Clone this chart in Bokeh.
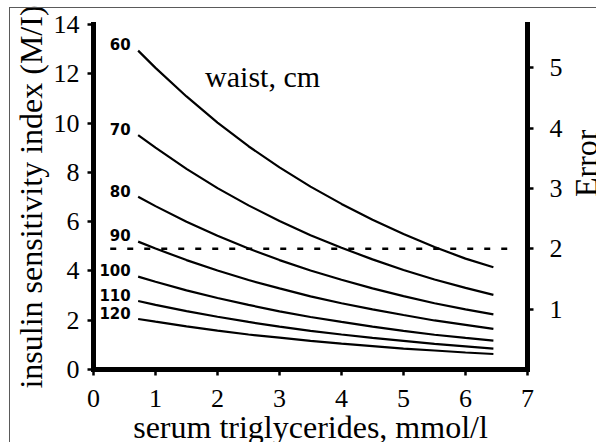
import math
from bokeh.plotting import figure
from bokeh.models import Range1d, LinearAxis, Label, FixedTicker, ColumnDataSource, InlineStyleSheet
from bokeh.core.properties import value
from bokeh.embed import file_html
from bokeh.resources import INLINE

# ---- data ----
triglycerides = [0.72, 1.0, 1.5, 2.0, 2.5, 3.0, 3.5, 4.0, 4.5, 5.0, 5.5, 6.0, 6.45]
waist_cm = ["60", "70", "80", "90", "100", "110", "120"]
isi_60 = [12.94, 12.24, 11.08, 10.02, 9.06, 8.20, 7.42, 6.72, 6.08, 5.50, 4.97, 4.50, 4.15]
isi_70 = [9.51, 9.00, 8.14, 7.36, 6.66, 6.03, 5.45, 4.94, 4.47, 4.04, 3.65, 3.31, 3.03]
isi_80 = [7.01, 6.63, 6.00, 5.43, 4.91, 4.44, 4.02, 3.64, 3.29, 2.98, 2.69, 2.44, 2.24]
isi_90 = [5.19, 4.91, 4.44, 4.02, 3.63, 3.29, 2.97, 2.69, 2.44, 2.21, 1.99, 1.81, 1.65]
isi_100 = [3.77, 3.56, 3.21, 2.90, 2.62, 2.36, 2.13, 1.93, 1.74, 1.57, 1.41, 1.28, 1.17]
isi_110 = [2.78, 2.62, 2.37, 2.14, 1.93, 1.74, 1.57, 1.42, 1.28, 1.16, 1.04, 0.94, 0.85]
isi_120 = [2.05, 1.94, 1.75, 1.58, 1.42, 1.29, 1.16, 1.05, 0.95, 0.85, 0.77, 0.69, 0.63]
series = [isi_60, isi_70, isi_80, isi_90, isi_100, isi_110, isi_120]

error_threshold = 2
threshold_x = [0.27, 6.85]
x_ticks = [0, 1, 2, 3, 4, 5, 6, 7]
y_ticks = [0, 2, 4, 6, 8, 10, 12, 14]
error_ticks = [1, 2, 3, 4, 5]
error_max = 14 / 2.45

SERIF = "Liberation Serif"

page_css = InlineStyleSheet(css="""
:host {
  width: 596px !important;
  height: 442px !important;
  max-width: 596px !important;
  max-height: 442px !important;
  overflow: hidden !important;
}
:host::after {
  content: "";
  position: absolute;
  left: 9px; top: 7px; width: 700px; height: 600px;
  border-top: 1.5px solid #5a5a5a;
  border-left: 1.5px solid #5a5a5a;
  pointer-events: none;
}
""")

p = figure(frame_width=434, frame_height=345, x_range=Range1d(0, 7), y_range=Range1d(0, 14),
           output_backend="svg", toolbar_location=None,
           min_border_left=93, min_border_right=69, min_border_top=24, min_border_bottom=72,
           stylesheets=[page_css])
p.extra_y_ranges = {"err": Range1d(0, error_max)}
p.xgrid.visible = False
p.ygrid.visible = False
p.outline_line_color = None
p.background_fill_color = "white"
p.border_fill_color = "white"

right = LinearAxis(y_range_name="err", ticker=FixedTicker(ticks=error_ticks))
p.add_layout(right, "right")
p.xaxis.ticker = FixedTicker(ticks=x_ticks)
p.yaxis[0].ticker = FixedTicker(ticks=y_ticks)

for ax in [p.xaxis[0], p.yaxis[0], right]:
    ax.axis_line_width = 5
    ax.axis_line_color = "black"
    ax.axis_line_cap = "square"
    ax.major_tick_line_width = 2.5
    ax.major_tick_line_color = "black"
    ax.major_tick_out = 6
    ax.major_tick_in = 0
    ax.minor_tick_out = 0
    ax.minor_tick_in = 0
    ax.major_label_text_font = SERIF
    ax.major_label_text_font_size = "26px"
    ax.major_label_text_color = "black"
    ax.axis_label_text_font = SERIF
    ax.axis_label_text_font_style = "normal"
    ax.axis_label_text_color = "black"

xa = p.xaxis[0]
xa.major_label_standoff = 14
xa.axis_label = "serum triglycerides, mmol/l"
xa.axis_label_text_font_size = "32px"
xa.axis_label_standoff = -1

ya = p.yaxis[0]
ya.major_label_standoff = 8
ya.axis_label = "insulin sensitivity index (M/I)"
ya.axis_label_text_font_size = "32px"
ya.axis_label_standoff = 2

right.major_label_standoff = 16
right.axis_label = "Error"
right.axis_label_text_font_size = "32px"
right.axis_label_standoff = 20
right.axis_label_orientation = math.pi / 2

# curves
for ys in series:
    p.line(triglycerides, ys, line_width=2.2, line_color="black")

# curve labels
src = ColumnDataSource(dict(x=[triglycerides[0] - 0.12] * len(series),
                            y=[s[0] + 0.25 for s in series], t=waist_cm))
p.text(x="x", y="y", text="t", source=src, text_font=value("DejaVu Sans"),
       text_font_style="bold", text_font_size="15px", text_align="right",
       text_baseline="middle", text_color="black")

# dashed threshold at Error = 2
p.line(threshold_x, [error_threshold, error_threshold], y_range_name="err",
       line_width=2.5, line_color="black", line_dash="6 11")

# in-plot caption
p.add_layout(Label(x=1.80, y=11.87, text="waist, cm", text_font=SERIF,
                   text_font_size="30px", text_align="left", text_baseline="alphabetic",
                   text_color="black"))

open("out.html", "w").write(file_html(p, INLINE))
